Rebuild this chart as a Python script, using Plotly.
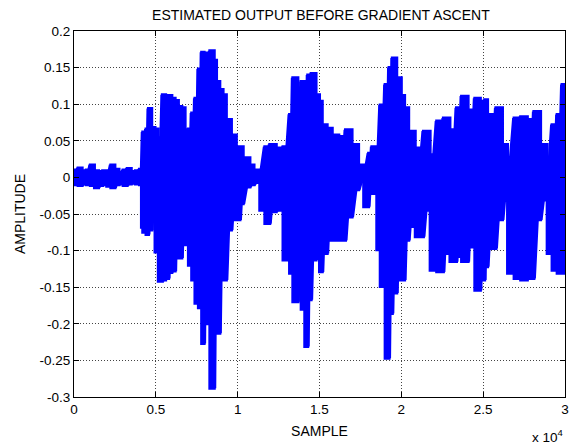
import plotly.graph_objects as go

# Envelope of the estimated output signal: sample index, upper peak, lower peak
sample = [0, 250, 500, 750, 1000, 1250, 1500, 1750, 2000, 2250, 2500, 2750, 3000,
          3250, 3500, 3750, 4000, 4120, 4200, 4400, 4550, 4750, 4950, 5150, 5400,
          5600, 5780, 5980, 6180, 6380, 6590, 6790, 6990, 7190, 7390, 7600, 7800,
          7950, 8100, 8300, 8570, 8710, 8910, 9110, 9310, 9620, 9920, 10140, 10340,
          10750, 11000, 11350, 11660, 11960, 12360, 12770, 13170, 13370, 13680,
          13880, 14100, 14280, 14490, 14790, 15000, 15170, 15470, 15780, 16180,
          16590, 16990, 17390, 17700, 18000, 18200, 18500, 18710, 19010, 19250,
          19450, 19720, 20000, 20200, 20450, 20850, 21350, 21760, 22160, 22570,
          22970, 23370, 23680, 24080, 24490, 24830, 25090, 25270, 25780, 26180,
          26490, 26890, 27290, 27700, 28100, 28510, 28910, 29210, 29520, 29820, 30000]

upper = [0.010, 0.013, 0.009, 0.010, 0.017, 0.009, 0.008, 0.009, 0.009, 0.017, 0.011,
         0.007, 0.010, 0.012, 0.008, 0.009, 0.011, 0.010, 0.062, 0.066, 0.094, 0.068,
         0.066, 0.054, 0.113, 0.110, 0.112, 0.108, 0.105, 0.097, 0.095, 0.065, 0.066,
         0.088, 0.108, 0.148, 0.171, 0.170, 0.150, 0.173, 0.160, 0.131, 0.120, 0.113,
         0.079, 0.058, 0.042, 0.042, 0.027, 0.017, 0.010, 0.005, 0.042, 0.045, 0.040,
         0.042, 0.086, 0.136, 0.122, 0.131, 0.125, 0.140, 0.142, 0.113, 0.104, 0.072,
         0.067, 0.058, 0.056, 0.065, 0.045, 0.017, 0.008, 0.033, 0.042, 0.036, 0.099,
         0.127, 0.150, 0.163, 0.136, 0.112, 0.095, 0.063, 0.040, 0.063, 0.031, 0.077,
         0.081, 0.065, 0.095, 0.111, 0.092, 0.108, 0.104, 0.106, 0.086, 0.095, 0.045,
         0.027, 0.081, 0.083, 0.079, 0.090, 0.045, 0.017, 0.072, 0.086, 0.127, 0.127]

lower = [-0.009, -0.010, -0.011, -0.009, -0.010, -0.011, -0.014, -0.011, -0.010, -0.012,
         -0.014, -0.010, -0.009, -0.011, -0.009, -0.008, -0.009, -0.010, -0.068, -0.075,
         -0.078, -0.072, -0.045, -0.102, -0.142, -0.140, -0.138, -0.130, -0.128, -0.108,
         -0.110, -0.090, -0.092, -0.120, -0.140, -0.172, -0.178, -0.227, -0.180, -0.200,
         -0.288, -0.180, -0.213, -0.136, -0.140, -0.072, -0.058, -0.058, -0.036, -0.013,
         -0.010, -0.007, -0.045, -0.063, -0.047, -0.045, -0.113, -0.131, -0.170, -0.140,
         -0.180, -0.231, -0.167, -0.113, -0.104, -0.129, -0.104, -0.086, -0.086, -0.086,
         -0.054, -0.017, -0.006, -0.040, -0.022, -0.022, -0.099, -0.149, -0.247, -0.186,
         -0.158, -0.140, -0.140, -0.086, -0.067, -0.081, -0.045, -0.127, -0.129, -0.104,
         -0.115, -0.108, -0.115, -0.095, -0.154, -0.140, -0.122, -0.097, -0.058, -0.031,
         -0.131, -0.138, -0.140, -0.138, -0.058, -0.031, -0.104, -0.127, -0.131, -0.131]

x_tick_vals = [0, 5000, 10000, 15000, 20000, 25000, 30000]
x_tick_text = ["0", "0.5", "1", "1.5", "2", "2.5", "3"]
y_tick_vals = [0.2, 0.15, 0.1, 0.05, 0, -0.05, -0.1, -0.15, -0.2, -0.25, -0.3]
y_tick_text = ["0.2", "0.15", "0.1", "0.05", "0", "-0.05", "-0.1", "-0.15", "-0.2", "-0.25", "-0.3"]

BLUE = "#0000ff"
FONT = "Liberation Sans, Arial, sans-serif"

# Solid band between the peaks (stepped, like a dense sampled trace)
band_x = sample + sample[::-1]
band_y = upper + lower[::-1]

# Oscillating stroke swinging between the peaks at each sample
zig_x, zig_y = [], []
for s, u, l in zip(sample, upper, lower):
    zig_x += [s, s]
    zig_y += [u, l]

fig = go.Figure()
fig.add_trace(go.Scatter(x=band_x, y=band_y, mode="lines", fill="toself",
                         fillcolor=BLUE, line=dict(color=BLUE, width=3, shape="hv"),
                         hoverinfo="skip", showlegend=False))
fig.add_trace(go.Scatter(x=zig_x, y=zig_y, mode="lines",
                         line=dict(color=BLUE, width=4),
                         hoverinfo="skip", showlegend=False))

axis_common = dict(showline=True, linecolor="black", linewidth=1, mirror="ticks",
                   ticks="inside", ticklen=5, tickcolor="black",
                   showgrid=True, gridcolor="#444444", griddash="1px,2px", gridwidth=1,
                   zeroline=False, ticklabeloverflow="allow",
                   tickfont=dict(family=FONT, size=13.5, color="black"))

fig.update_xaxes(range=[0, 30000], tickvals=x_tick_vals, ticktext=x_tick_text,
                 title=dict(text="SAMPLE", font=dict(family=FONT, size=14, color="black"),
                            standoff=9),
                 **axis_common)
fig.update_yaxes(range=[-0.3, 0.2], tickvals=y_tick_vals, ticktext=y_tick_text,
                 title=dict(text="AMPLITUDE", font=dict(family=FONT, size=14, color="black"),
                            standoff=10),
                 **axis_common)

fig.update_layout(
    width=571, height=445,
    margin=dict(l=74, r=2, t=31, b=48),
    paper_bgcolor="white", plot_bgcolor="white",
    title=dict(text="ESTIMATED OUTPUT BEFORE GRADIENT ASCENT",
               font=dict(family=FONT, size=14, color="black"),
               x=0.562, xanchor="center", y=0.965, yanchor="middle"),
    annotations=[dict(text="x 10<sup>4</sup>", xref="paper", yref="paper",
                      x=1.0, y=-0.076, xanchor="right", yanchor="top", showarrow=False,
                      font=dict(family=FONT, size=13.5, color="black"))],
)

fig.write_html("out.html")
